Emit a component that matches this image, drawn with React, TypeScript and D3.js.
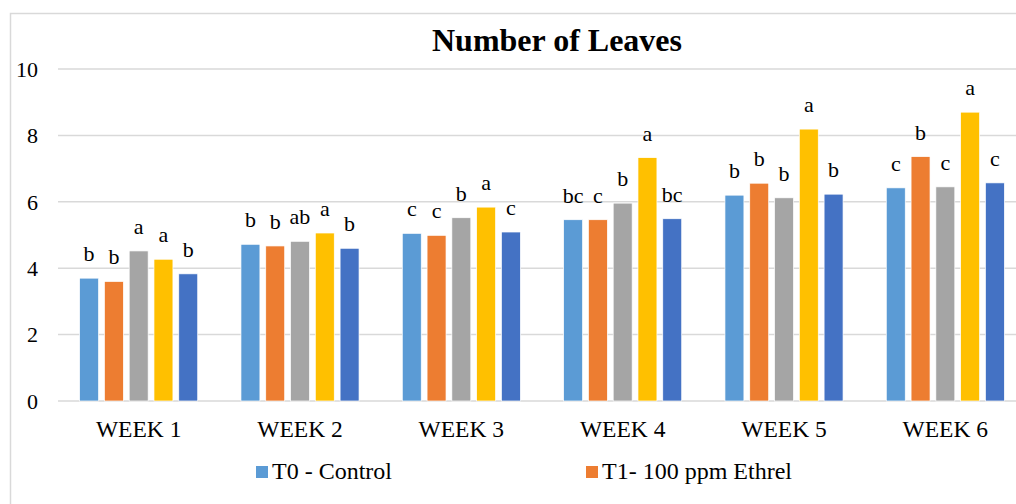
import React, { useEffect, useRef } from 'react';
import * as d3 from 'd3';

const weeks = ['WEEK 1', 'WEEK 2', 'WEEK 3', 'WEEK 4', 'WEEK 5', 'WEEK 6'];
const seriesNames = ['T0 - Control', 'T1- 100 ppm Ethrel', 'T2', 'T3', 'T4'];
const colors = ['#5B9BD5', '#ED7D31', '#A5A5A5', '#FFC000', '#4472C4'];

const t0Values = [3.7, 4.72, 5.05, 5.46, 6.2, 6.42];
const t1Values = [3.6, 4.67, 4.99, 5.46, 6.56, 7.36];
const t2Values = [4.52, 4.81, 5.52, 5.96, 6.12, 6.45];
const t3Values = [4.27, 5.06, 5.84, 7.33, 8.19, 8.7];
const t4Values = [3.83, 4.6, 5.09, 5.49, 6.23, 6.57];

const t0Letters = ['b', 'b', 'c', 'bc', 'b', 'c'];
const t1Letters = ['b', 'b', 'c', 'c', 'b', 'b'];
const t2Letters = ['a', 'ab', 'b', 'b', 'b', 'c'];
const t3Letters = ['a', 'a', 'a', 'a', 'a', 'a'];
const t4Letters = ['b', 'b', 'c', 'bc', 'b', 'c'];

const yTicks = [0, 2, 4, 6, 8, 10];
const legendItems = [0, 1]; // only these two are visible in the picture

const App = () => {
  const ref = useRef<SVGSVGElement>(null);

  useEffect(() => {
    const svg = d3.select(ref.current);
    svg.selectAll('*').remove();

    const font = "'Liberation Serif', 'Times New Roman', serif";
    const allValues = [t0Values, t1Values, t2Values, t3Values, t4Values];
    const allLetters = [t0Letters, t1Letters, t2Letters, t3Letters, t4Letters];

    // outer chart border
    svg.append('rect')
      .attr('x', 10.5).attr('y', 13.5)
      .attr('width', 1100).attr('height', 600)
      .attr('fill', 'white')
      .attr('stroke', '#D9D9D9').attr('stroke-width', 1.5);

    const x0 = d3.scaleBand().domain(weeks).range([58, 1026]).padding(0);
    const bw = x0.bandwidth();
    const pad = bw * 0.134;
    const x1 = d3.scaleBand().domain(seriesNames).range([pad, bw - pad]).paddingInner(0.235);
    const y = d3.scaleLinear().domain([0, 10]).range([401, 69]);

    // gridlines
    svg.append('g').selectAll('line').data(yTicks).enter().append('line')
      .attr('x1', 58).attr('x2', 1026)
      .attr('y1', (d) => y(d)).attr('y2', (d) => y(d))
      .attr('stroke', '#D9D9D9').attr('stroke-width', 1.5);

    // y tick labels
    svg.append('g').selectAll('text').data(yTicks).enter().append('text')
      .attr('x', 38).attr('y', (d) => y(d))
      .attr('dy', '0.35em')
      .attr('text-anchor', 'end')
      .style('font-family', font).style('font-size', '22px')
      .text((d) => d);

    // bars + letters
    seriesNames.forEach((name, si) => {
      const g = svg.append('g');
      g.selectAll('rect').data(allValues[si]).enter().append('rect')
        .attr('x', (d, i) => x0(weeks[i])! + x1(name)!)
        .attr('y', (d) => y(d))
        .attr('width', x1.bandwidth())
        .attr('height', (d) => y(0) - y(d))
        .attr('fill', colors[si])
        .attr('stroke', 'white').attr('stroke-width', 0.7);

      g.selectAll('text').data(allValues[si]).enter().append('text')
        .attr('x', (d, i) => x0(weeks[i])! + x1(name)! + x1.bandwidth() / 2)
        .attr('y', (d) => y(d) - 17)
        .attr('text-anchor', 'middle')
        .style('font-family', font).style('font-size', '22px')
        .text((d, i) => allLetters[si][i]);
    });

    // x labels
    svg.append('g').selectAll('text').data(weeks).enter().append('text')
      .attr('x', (d) => x0(d)! + bw / 2)
      .attr('y', 437)
      .attr('text-anchor', 'middle')
      .style('font-family', font).style('font-size', '23.5px')
      .text((d) => d);

    // title
    svg.append('text')
      .attr('x', 557).attr('y', 51)
      .attr('text-anchor', 'middle')
      .style('font-family', font).style('font-size', '32px').style('font-weight', 'bold')
      .text('Number of Leaves');

    // legend
    const legendX = [256, 586];
    legendItems.forEach((si, k) => {
      svg.append('rect')
        .attr('x', legendX[k]).attr('y', 466)
        .attr('width', 12).attr('height', 12)
        .attr('fill', colors[si]);
      svg.append('text')
        .attr('x', legendX[k] + 16).attr('y', 479)
        .style('font-family', font).style('font-size', '24px')
        .text(seriesNames[si]);
    });
  }, []);

  return (
    <div style={{ position: 'absolute', left: 0, top: 0 }}>
      <svg ref={ref} width={1016} height={504} style={{ display: 'block', background: 'white' }} />
    </div>
  );
};

export default App;
